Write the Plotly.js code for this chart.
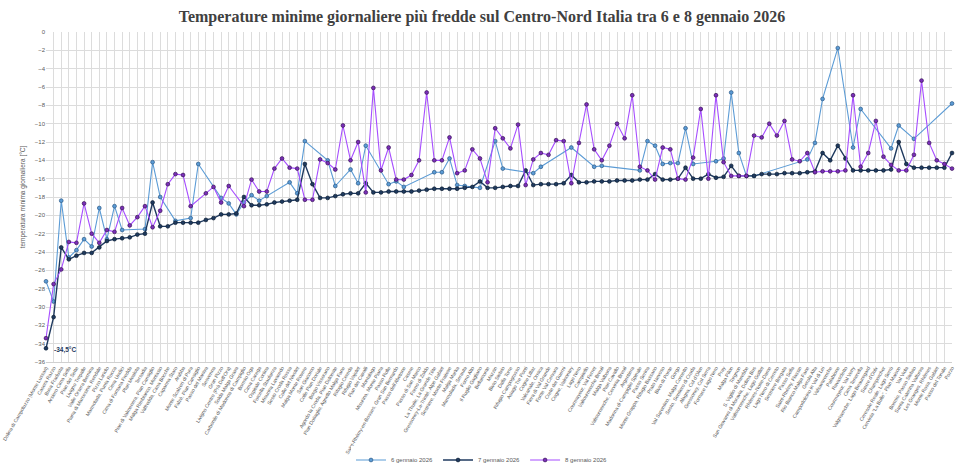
<!DOCTYPE html>
<html><head><meta charset="utf-8">
<script src="https://cdn.plot.ly/plotly-3.0.1.min.js"></script>
<style>html,body{margin:0;padding:0;background:#fff;}#chart{width:964px;height:472px;}</style>
</head><body><div id="chart"></div>
<script>
const stations = [
"Dolina di Campoluzzo (Monte Lussari)","Casera Razzo","Busa Fradusta","Arsiero Cima Sella","Pian dei Sette",
"Livigno Trepalle","Valle Orsera Bernina","Piana di Marcesina, Rendale","Pizzo Lariolo","Marmolada, Punta Rocca",
"Cima Undici","Cima di Fontana Fredda","Plan Mealota","Tersadia","Pian di Valmenera, Pian Cansiglio",
"Malga Rimbianco, Montasio","Valfredda, Cima Bocche","Capanna Staro","Arabba","Monte Scalzeri di Pura",
"Falzè, Pian Cansiglio","Passo del Maniva","Sesvenna","Gran Pizzo","Livigno Centro (Prà Dell'Ora)",
"Solda Malga Grava","Carbonile di Madonna di Campiglio","Bormio Oga","Cima Carega","Ospitale Cortina",
"Forcella Staulanza","Misurina Lavaredo","Sesto Croda Rossa","Colle del Nivolet","Malga Monte Rovere",
"San Giacomo","Colle Pian Doriale","Borgo Vissorano","Agordo la Croda, Pian Dolomite","Pian Dotiaglio, Agnello Malga Fane",
"Rifugio Cereda","Rifugio Vajolet","Pian dei Cavalli","Montalago","Misurina, Monte Piana",
"Passo Rolle","Saint-Rhémy-en-Bosses, Gran San Bernardo","Passo dell'Abetone","Casere","Passo di San Marco",
"Forno di Zoldo","La Thuile, La Grande Tête","Gressoney-La-Trinité, Alpe Gabiet","Sestriere, Monte Fraiteve","Malga Marka",
"Marmolada, Serauta","Forno Alto","Il Ruglio Gagliano","Bellamonte","Mazzin",
"Bivio Stelvio","Dalla Torre","Rifugio Campogrosso","Asiago Tre Ponti","Cogne Lillaz",
"Valcanale, Ornica","Fiera di Val Grande","Fonte Val Cervara","Crete dei Guerni","Cogne, Valnontey",
"Lago Nero","Campitello","Courmayeur, Val Ferret","Valtournenche Breuil","Malga Valbona",
"Pian Cavallo","Valtournenche, Cervinia Breuil","Argentiera","Madonna di Campiglio Spinale","Passo Serina",
"Monte Grappa, Rifugio Bassano","Prato Nevoso","Bivio di Ponte","Gorgo","Val Sarentino, Malga Cornetto",
"Sesto, Sentiero di Croda","Alagna, Col d'Olen","Gressoney, Col Serra","Fornace Lago Nero","Pray",
"Malga Pilon","Torgnon","S. Vigilio di Marebbe","San Giovanni di Moravia, Dolina Bus","Valtournenche, Lago Goillet",
"Rhêmes-Notre-Dame","Lago Nero di Cerreto","Sestriere Borgata","Passo Sella","Saint-Rhémy, Flassin",
"Rio Bianco Malga Fane","Gerola Alta","Campodolcino in Val di Lei","Valsavarenche","Palabione",
"Ravascletto","Courmayeur, Val Veny","Cima Tenerella","Valgrisenche, Lago Beauregard","Sauze d'Oulx",
"Champorcher","Ceresole Reale, Lago Serrù","Cervinia \"La Bulle\", Plan Maison","Val Viola","Bormio, Passo Stelvio",
"Santa Caterina Valfurva","Les Granges, Rhêmes","Monte Rosa, Gabiet","Passo del Tonale","Pozzo"
];
const g6 = [
-27.2,-29.4,-18.4,-24.6,-23.8,-22.6,-23.4,-19.2,-22.6,-19.0,
-21.6,null,null,-21.5,-14.2,-18.0,null,-20.6,null,-20.3,
-14.4,null,null,-18.1,-18.7,-19.9,-18.6,-17.8,-18.4,-17.9,
null,null,-16.4,-17.6,-11.9,null,null,-14.0,-16.8,null,
-15.0,-16.5,-12.4,null,null,-16.6,-16.3,-16.9,null,null,
null,-15.3,-15.3,-13.8,-16.7,-16.8,null,-17.0,null,-11.9,
-14.9,null,null,null,-15.4,-14.7,null,null,null,-12.6,
null,null,-14.7,-14.6,null,null,null,null,-15.1,-11.9,
-12.4,-14.4,-14.3,-14.3,-10.5,-14.4,null,null,-14.1,-13.8,
-6.6,-13.2,-15.7,-15.7,null,null,null,null,null,null,
-13.9,-12.1,-7.3,null,-1.75,null,-12.6,-8.4,null,null,
null,-12.7,-10.2,null,-11.65,null,null,null,null,-7.8
];
const g7 = [
-34.5,-31.1,-23.5,-24.8,-24.4,-24.1,-24.1,-23.5,-22.8,-22.6,
-22.5,-22.4,-22.1,-22.0,-18.6,-21.2,-21.2,-20.8,-20.8,-20.8,
-20.8,-20.5,-20.3,-19.9,-19.9,-19.8,-18.0,-18.9,-18.9,-18.8,
-18.6,-18.5,-18.4,-18.3,-14.4,-16.6,-18.1,-18.1,-17.9,-17.7,
-17.6,-17.6,-16.5,-17.5,-17.5,-17.4,-17.4,-17.4,-17.4,-17.3,
-17.2,-17.1,-17.1,-17.1,-17.1,-17.0,-16.9,-16.3,-17.0,-17.0,
-16.9,-16.8,-16.8,-15.1,-16.7,-16.6,-16.6,-16.6,-16.5,-15.6,
-16.4,-16.4,-16.3,-16.3,-16.3,-16.2,-16.2,-16.2,-16.1,-16.1,
-15.5,-16.1,-16.1,-16.0,-14.8,-16.0,-16.0,-15.5,-15.9,-15.8,
-14.6,-15.7,-15.7,-15.7,-15.5,-15.5,-15.5,-15.4,-15.4,-15.4,
-15.3,-15.2,-13.2,-14.0,-12.4,-13.8,-15.1,-15.1,-15.1,-15.1,
-15.1,-15.0,-12.0,-14.4,-14.8,-14.8,-14.8,-14.8,-14.8,-13.2
];
const g8 = [
-33.4,-27.5,-25.9,-22.9,-23.0,-18.7,-22.0,-23.0,-21.6,-21.8,
-19.2,-21.1,-20.2,-19.0,-21.3,-19.5,-16.6,-15.5,-15.6,-19.0,
null,-17.6,-16.9,-18.6,-16.8,null,-19.0,-16.1,-17.4,-17.4,
-14.9,-13.8,-14.8,-14.9,-18.3,-18.3,-13.9,-14.3,-15.0,-10.2,
-14.0,-12.0,-17.5,-6.1,-15.1,-12.6,-16.1,-16.1,-15.6,-14.0,
-6.6,-14.0,-14.0,-11.5,-15.4,-15.1,-12.8,-13.8,-16.4,-10.5,
-11.6,-12.7,-10.1,-16.7,-13.9,-13.2,-13.4,-11.8,-11.9,-16.5,
-12.1,-7.9,-12.8,-14.0,-12.4,-10.0,-11.6,-6.9,-14.7,-15.1,
-16.1,-12.6,-12.8,-16.0,-16.1,-13.7,-8.4,-16.0,-6.9,-14.2,
-15.7,-15.7,-15.7,-11.3,-11.5,-10.0,-11.3,-9.7,-13.9,-14.1,
-13.2,-15.3,-15.2,-15.2,-15.2,-15.1,-6.9,-14.7,-13.2,-9.7,
-13.6,-14.5,-15.1,-15.1,-13.4,-5.3,-12.1,-14.0,-14.4,-14.9
];
const seriesNames = ["6 gennaio 2026","7 gennaio 2026","8 gennaio 2026"];
const minLabel = "-34,5°C";

function tr(y, name, lineColor, mFill, mLine, lw){
  return {type:'scatter', mode:'lines+markers', x:stations, y:y, name:name, connectgaps:true, cliponaxis:false,
    line:{color:lineColor, width:lw},
    marker:{symbol:'circle', size:3.8, color:mFill, line:{color:mLine, width:0.7}}};
}
const data = [
  tr(g6, seriesNames[0], '#5B9BD5', '#5B9BD5', '#2E5A86', 1.1),
  tr(g7, seriesNames[1], '#1F3A5F', '#1F3A5F', '#0F1F33', 1.4),
  tr(g8, seriesNames[2], '#A64DFF', '#7A2FB8', '#3A1458', 1.1)
];
const layout = {
  width:964, height:472, paper_bgcolor:'#fff', plot_bgcolor:'#fff',
  margin:{l:46, r:12, t:32, b:110},
  font:{family:'Liberation Sans, Arial, sans-serif', color:'#595959'},
  title:{text:'Temperature minime giornaliere più fredde sul Centro-Nord Italia tra 6 e 8 gennaio 2026',
    font:{family:'Liberation Serif, DejaVu Serif, serif', size:16, color:'#404040', weight:'bold'},
    x:0.5, xref:'container', xanchor:'center', y:1-16/472, yref:'container', yanchor:'middle'},
  xaxis:{type:'category', range:[0,119], tickmode:'linear', tick0:0, dtick:1, tickangle:-60,
    tickfont:{size:5, color:'#595959'}, showgrid:true, gridcolor:'#dcdcdc', gridwidth:1,
    showline:true, linecolor:'#d0d0d0', ticks:'', automargin:false, fixedrange:true},
  yaxis:{range:[-36,0], dtick:2, tick0:0, showgrid:true, gridcolor:'#dcdcdc', gridwidth:1, zeroline:false,
    showline:false, ticks:'', tickfont:{size:6, color:'#595959'}, automargin:false,
    title:{text:'temperatura minima giornaliera [°C]', font:{size:6.5, color:'#595959'}, standoff:8}},
  legend:{orientation:'h', x:0.5, xref:'container', xanchor:'center', y:12/472, yref:'container', yanchor:'middle',
    font:{size:6, color:'#595959'}, itemwidth:30, traceorder:'normal'},
  annotations:[{x:stations[0], y:g7[0], xref:'x', yref:'y', text:'<b>'+minLabel+'</b>', showarrow:false,
    xanchor:'left', yanchor:'middle', xshift:6, yshift:-1.5, font:{size:6.5, color:'#1F3A5F'}}],
  showlegend:true
};
Plotly.newPlot('chart', data, layout, {displayModeBar:false, staticPlot:true});
</script>
</body></html>
